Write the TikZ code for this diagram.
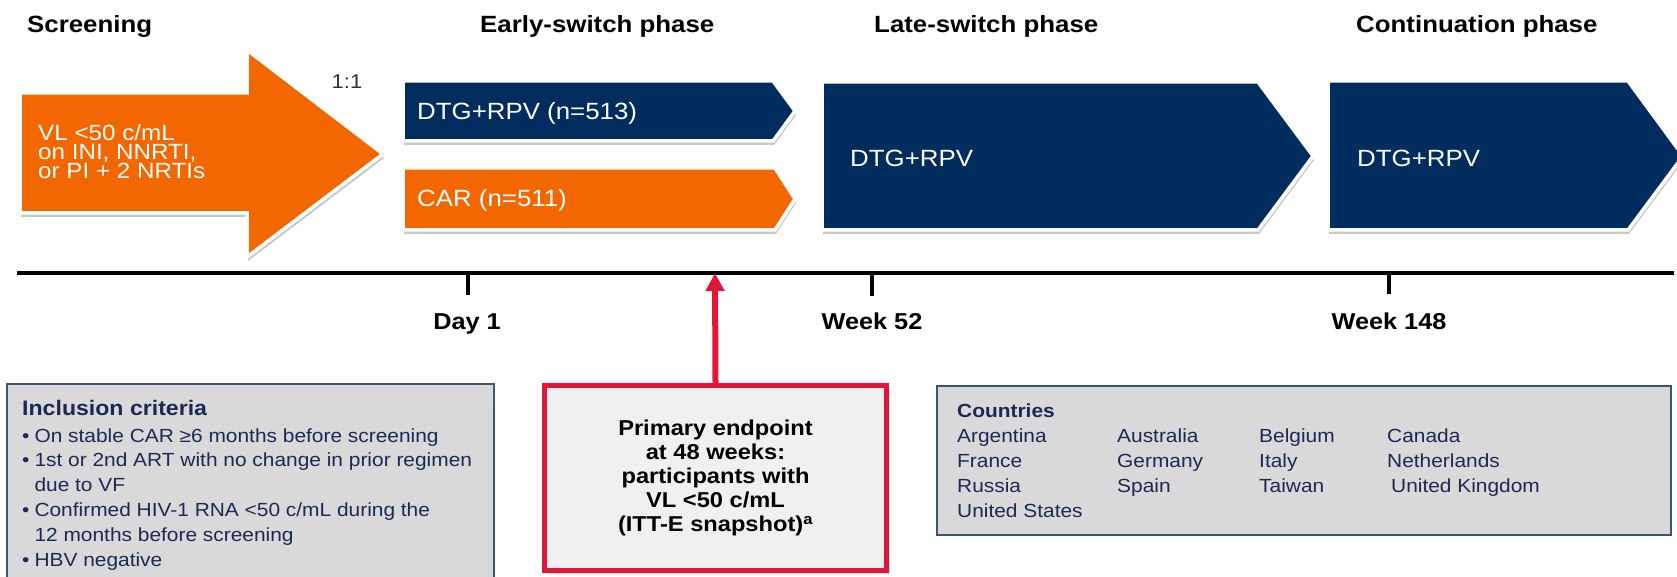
\documentclass[tikz,border=0pt]{standalone}
\usepackage{fontspec}
\setmainfont{Liberation Sans}[FakeStretch=1.1]
\usetikzlibrary{shadows,arrows.meta}
\definecolor{navy}{HTML}{002D5E}
\definecolor{orng}{HTML}{F26700}
\definecolor{crim}{HTML}{E0163A}
\definecolor{boxgray}{HTML}{D9D9D9}
\definecolor{epfill}{HTML}{F0F0F0}
\definecolor{boxline}{HTML}{3C5478}
\definecolor{txtnavy}{HTML}{1B2A55}
\newcommand\fsz[2]{\fontsize{#1}{#2}\selectfont}
\begin{document}
\begin{tikzpicture}[x=1pt,y=-1pt,
  phasebox/.style={draw=white, line width=3.5pt, line join=miter,
    drop shadow={shadow xshift=1pt, shadow yshift=-4pt, opacity=0.3, fill=black!70}},
  phasetitle/.style={font=\bfseries\fsz{23.5}{26}, anchor=base west, inner sep=0pt},
  armtext/.style={text=white, font=\fsz{23.5}{26}, anchor=west, inner sep=0pt},
  ticklabel/.style={font=\bfseries\fsz{23}{26}, anchor=base, inner sep=0pt},
  tick/.style={line width=4pt},
  infobox/.style={draw=boxline, line width=2pt, fill=boxgray}]
\useasboundingbox (0,0) rectangle (1677,577);
\fill[white] (0,0) rectangle (1677,577);

% phase titles
\node[phasetitle] (tScr) at (27,33) {Screening};
\node[phasetitle] (tEarly) at (480,33) {Early-switch phase};
\node[phasetitle] (tLate) at (874,33) {Late-switch phase};
\node[phasetitle] (tCont) at (1356,33) {Continuation phase};

% screening arrow
\path[phasebox, fill=orng] (20,93) -- (247,93) -- (247,50) -- (383,154) -- (247,257) -- (247,213) -- (20,213) -- cycle;
\node[text=white, font=\fsz{22}{19}, align=left, anchor=west, inner sep=0pt] (scrtext) at (38,152)
  {VL <50 c/mL\\on INI, NNRTI,\\or PI + 2 NRTIs};
\node[font=\fsz{20}{22}, text=black!80, inner sep=0pt] (ratio) at (347,82) {1:1};

% early-switch arms
\path[phasebox, fill=navy] (403,81) -- (773,81) -- (795,111) -- (773,141) -- (403,141) -- cycle;
\node[armtext] (armDTG) at (417,113) {DTG+RPV (n=513)};
\path[phasebox, fill=orng] (403,168) -- (775,168) -- (795,199) -- (775,230) -- (403,230) -- cycle;
\node[armtext] (armCAR) at (417,200) {CAR (n=511)};

% late-switch and continuation
\path[phasebox, fill=navy] (822,82) -- (1258,82) -- (1313,156) -- (1258,230) -- (822,230) -- cycle;
\node[armtext] (lateDTG) at (850,158) {DTG+RPV};
\path[phasebox, fill=navy] (1328,81) -- (1628,81) -- (1683,156) -- (1628,230) -- (1328,230) -- cycle;
\node[armtext] (contDTG) at (1357,158) {DTG+RPV};

% timeline
\coordinate (tlL) at (17,273);
\coordinate (tlR) at (1674,273);
\coordinate (d1) at (468,273);
\coordinate (w52) at (872,273);
\coordinate (w148) at (1389,273);
\coordinate (pe) at (715,273);
\draw[line width=4pt] (tlL) -- (tlR);
\draw[tick] (d1) -- ++(0,22);
\draw[tick] (w52) -- ++(0,23);
\draw[tick] (w148) -- ++(0,21);
\node[ticklabel] (lD1) at (467,329) {Day 1};
\node[ticklabel] (lW52) at (872,329) {Week 52};
\node[ticklabel] (lW148) at (1389,329) {Week 148};

% inclusion criteria
\path[infobox] (7,384) rectangle (494,600);
\node[font=\bfseries\fsz{21}{24}, text=txtnavy, anchor=base west, inner sep=0pt] (inctitle) at (22,415) {Inclusion criteria};
\node[font=\fsz{19}{24.8}, text=txtnavy, anchor=base west, inner sep=0pt] (inclist) at (22,442)
  {\begin{tabular}[t]{@{}l@{\hspace{5pt}}l@{}}
   \textbullet & On stable CAR ≥6 months before screening\\
   \textbullet & 1st or 2nd ART with no change in prior regimen\\
               & due to VF\\
   \textbullet & Confirmed HIV-1 RNA <50 c/mL during the\\
               & 12 months before screening\\
   \textbullet & HBV negative
   \end{tabular}};

% primary endpoint
\node[draw=crim, line width=5pt, fill=epfill, minimum width=342pt, minimum height=185pt,
  drop shadow={shadow xshift=3pt, shadow yshift=-3pt, opacity=0.3},
  font=\bfseries\fsz{21.5}{24}, align=center, text=black] (endpoint) at (715.5,478)
  {Primary endpoint\\at 48 weeks:\\participants with\\VL <50 c/mL\\(ITT-E snapshot)\textsuperscript{a}};
\draw[crim, line width=6pt, -{Triangle[length=18pt,width=18pt]}] (endpoint.north) -- (pe);

% countries
\path[infobox] (937,386) rectangle (1671,535);
\node[font=\fsz{19}{25}, text=txtnavy, anchor=base west, inner sep=0pt] (countries) at (957,417)
  {\begin{tabular}[t]{@{}p{160pt}@{}p{142pt}@{}p{128pt}@{}l@{}}
   \multicolumn{4}{@{}l}{\bfseries Countries}\\
   Argentina & Australia & Belgium & Canada\\
   France & Germany & Italy & Netherlands\\
   Russia & Spain & Taiwan & \hspace{4pt}United Kingdom\\
   United States & & &
   \end{tabular}};
\end{tikzpicture}
\end{document}
